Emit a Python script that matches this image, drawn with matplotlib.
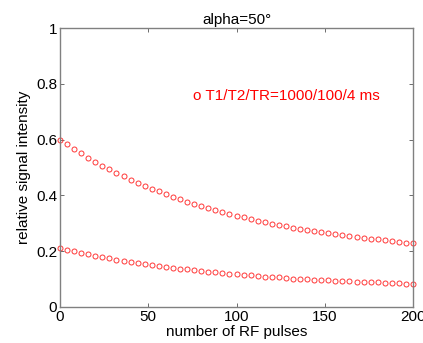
import matplotlib
matplotlib.use("Agg")
import matplotlib.pyplot as plt

plt.rcParams['font.family'] = ['Liberation Sans', 'DejaVu Sans']

pulses = [0, 4, 8, 12, 16, 20, 24, 28, 32, 36, 40, 44, 48, 52, 56, 60, 64, 68, 72, 76,
          80, 84, 88, 92, 96, 100, 104, 108, 112, 116, 120, 124, 128, 132, 136, 140,
          144, 148, 152, 156, 160, 164, 168, 172, 176, 180, 184, 188, 192, 196, 200]

signal_upper = [0.600, 0.583, 0.566, 0.551, 0.535, 0.521, 0.507, 0.494, 0.481, 0.468,
                0.456, 0.445, 0.434, 0.424, 0.414, 0.404, 0.395, 0.386, 0.377, 0.369,
                0.361, 0.354, 0.347, 0.340, 0.333, 0.327, 0.321, 0.315, 0.309, 0.304,
                0.298, 0.293, 0.289, 0.284, 0.280, 0.275, 0.271, 0.268, 0.264, 0.260,
                0.257, 0.253, 0.250, 0.247, 0.244, 0.242, 0.239, 0.236, 0.234, 0.231,
                0.230]

signal_lower = [0.211, 0.205, 0.199, 0.194, 0.189, 0.184, 0.179, 0.174, 0.170, 0.166,
                0.162, 0.158, 0.154, 0.150, 0.147, 0.144, 0.141, 0.137, 0.135, 0.132,
                0.129, 0.126, 0.124, 0.122, 0.119, 0.117, 0.115, 0.113, 0.111, 0.109,
                0.107, 0.106, 0.104, 0.102, 0.101, 0.100, 0.098, 0.097, 0.096, 0.094,
                0.093, 0.092, 0.091, 0.090, 0.089, 0.088, 0.087, 0.086, 0.085, 0.084,
                0.084]

x_ticks = [0, 50, 100, 150, 200]
y_ticks = [0, 0.2, 0.4, 0.6, 0.8, 1]
y_tick_labels = ['0', '0.2', '0.4', '0.6', '0.8', '1']

fig = plt.figure(figsize=(4.23, 3.43), dpi=100)
ax = fig.add_axes([60/423, 1-307/343, 353/423, 279/343])

mk = dict(marker='o', linestyle='none', markersize=3.6, markerfacecolor='none',
          markeredgecolor='#ff3838', markeredgewidth=0.7, clip_on=False)
ax.plot(pulses, signal_upper, **mk)
ax.plot(pulses, signal_lower, **mk)

ax.set_xlim(0, 200)
ax.set_ylim(0, 1)
ax.set_xticks(x_ticks)
ax.set_yticks(y_ticks)
ax.set_yticklabels(y_tick_labels)
ax.tick_params(direction='in', length=3, width=0.6, color='#555555',
               labelsize=11, top=True, right=True, pad=2)
for s in ax.spines.values():
    s.set_color('#808080')
    s.set_linewidth(1.0)

ax.set_xlabel('number of RF pulses', fontsize=11, labelpad=1)
ax.set_ylabel('relative signal intensity', fontsize=11, labelpad=4)
ax.set_title('alpha=50°', fontsize=11, pad=3)

ax.text(0.377, 0.757, 'o T1/T2/TR=1000/100/4 ms', color='red', fontsize=11,
        transform=ax.transAxes, va='center', ha='left')

fig.savefig('out.png', dpi=100)
